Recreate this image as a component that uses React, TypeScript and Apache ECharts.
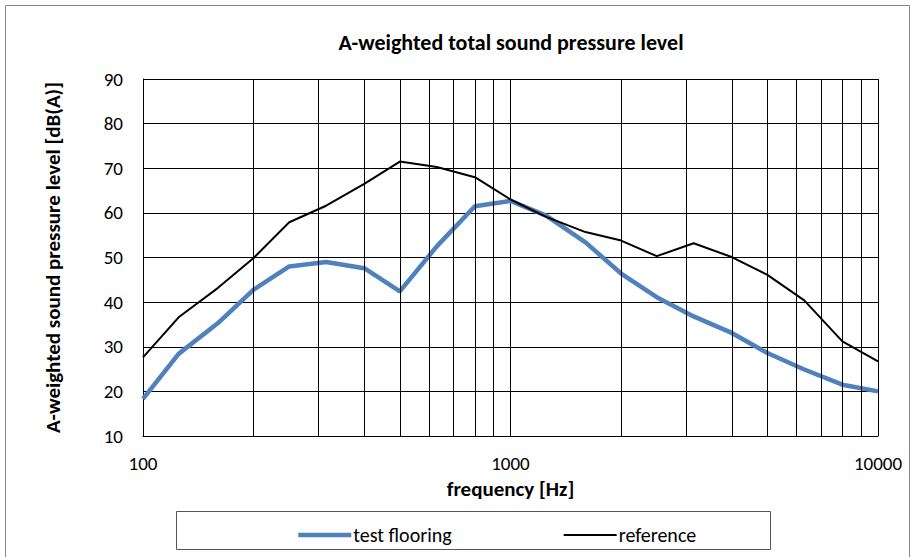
import React, { useEffect, useRef } from "react";
import * as echarts from "echarts";

const freqs = [100, 125, 160, 200, 250, 315, 400, 500, 630, 800, 1000, 1250, 1600, 2000, 2500, 3150, 4000, 5000, 6300, 8000, 10000];
const testFlooring = [18.3, 28.4, 35.3, 42.8, 48.0, 49.0, 47.6, 42.4, 52.5, 61.5, 62.7, 59.4, 53.4, 46.4, 41.1, 36.8, 33.1, 28.6, 24.9, 21.5, 20.0];
const reference = [27.6, 36.6, 43.2, 49.9, 57.9, 61.6, 66.5, 71.5, 70.3, 68.0, 63.0, 59.1, 55.7, 53.8, 50.3, 53.2, 50.1, 46.1, 40.4, 31.2, 26.7];
const minorGrid = [200, 300, 400, 500, 600, 700, 800, 900, 2000, 3000, 4000, 5000, 6000, 7000, 8000, 9000];

const FONT = "Carlito, Lato, 'Liberation Sans', sans-serif";
const BLUE = "#4f81bd";

export default function App() {
  const ref = useRef<HTMLDivElement>(null);
  useEffect(() => {
    document.body.style.margin = "0";
    if (!ref.current) return;
    const chart = echarts.init(ref.current, undefined, { renderer: "svg" });
    chart.setOption({
      animation: false,
      backgroundColor: "#fff",
      textStyle: { fontFamily: FONT, color: "#000" },
      title: {
        text: "A-weighted total sound pressure level",
        left: 506,
        textAlign: "center",
        top: 26,
        textStyle: { fontFamily: FONT, fontSize: 22, fontWeight: "bold", color: "#000" },
      },
      graphic: [
        { type: "rect", shape: { x: 5.5, y: 5.5, width: 904, height: 570 }, style: { fill: "none", stroke: "#888", lineWidth: 1 }, silent: true },
        { type: "rect", shape: { x: 176.5, y: 511.5, width: 594, height: 38 }, style: { fill: "none", stroke: "#555", lineWidth: 1 }, silent: true },
      ],
      legend: {
        data: [
          { name: "test flooring", lineStyle: { color: BLUE, width: 4.5 } },
          { name: "reference", lineStyle: { color: "#000", width: 2 } },
        ],
        top: 520,
        left: 291,
        itemWidth: 53,
        itemHeight: 14,
        itemGap: 111,
        itemStyle: { color: "transparent", borderColor: "transparent", borderWidth: 0, opacity: 0 },
        textStyle: { fontFamily: FONT, fontSize: 20, color: "#000", padding: [0, 0, 0, -3] },
      },
      grid: { left: 143, right: 37, top: 79, bottom: 121 },
      xAxis: {
        type: "log",
        logBase: 10,
        min: 100,
        max: 10000,
        name: "frequency [Hz]",
        nameLocation: "middle",
        nameGap: 42,
        nameTextStyle: { fontFamily: FONT, fontSize: 21, fontWeight: "bold", color: "#000" },
        axisLine: { show: true, lineStyle: { color: "#000", width: 1 } },
        axisTick: { show: false },
        axisLabel: { fontFamily: FONT, fontSize: 19, color: "#000", margin: 18, formatter: (v: number) => String(v) },
        splitLine: { show: true, lineStyle: { color: "#000", width: 1 } },
      },
      yAxis: {
        type: "value",
        min: 10,
        max: 90,
        interval: 10,
        name: "A-weighted sound pressure level [dB(A)]",
        nameLocation: "middle",
        nameRotate: 90,
        nameGap: 80,
        nameTextStyle: { fontFamily: FONT, fontSize: 21, fontWeight: "bold", color: "#000" },
        axisLine: { show: true, lineStyle: { color: "#000", width: 1 } },
        axisTick: { show: false },
        axisLabel: { fontFamily: FONT, fontSize: 19, color: "#000", margin: 20 },
        splitLine: { show: true, lineStyle: { color: "#000", width: 1 } },
      },
      series: [
        {
          name: "grid",
          type: "line",
          data: [],
          z: 1,
          silent: true,
          markLine: {
            silent: true,
            symbol: ["none", "none"],
            label: { show: false },
            lineStyle: { color: "#000", width: 1, type: "solid" },
            data: minorGrid.map((f) => ({ xAxis: f })),
          },
        },
        {
          name: "test flooring",
          type: "line",
          symbol: "none",
          z: 3,
          lineStyle: { color: BLUE, width: 4.5 },
          itemStyle: { color: BLUE },
          data: freqs.map((f, i) => [f, testFlooring[i]]),
        },
        {
          name: "reference",
          type: "line",
          symbol: "none",
          z: 4,
          lineStyle: { color: "#000", width: 2 },
          itemStyle: { color: "#000" },
          data: freqs.map((f, i) => [f, reference[i]]),
        },
      ],
    });
    return () => chart.dispose();
  }, []);
  return <div ref={ref} style={{ width: 915, height: 557 }} />;
}
